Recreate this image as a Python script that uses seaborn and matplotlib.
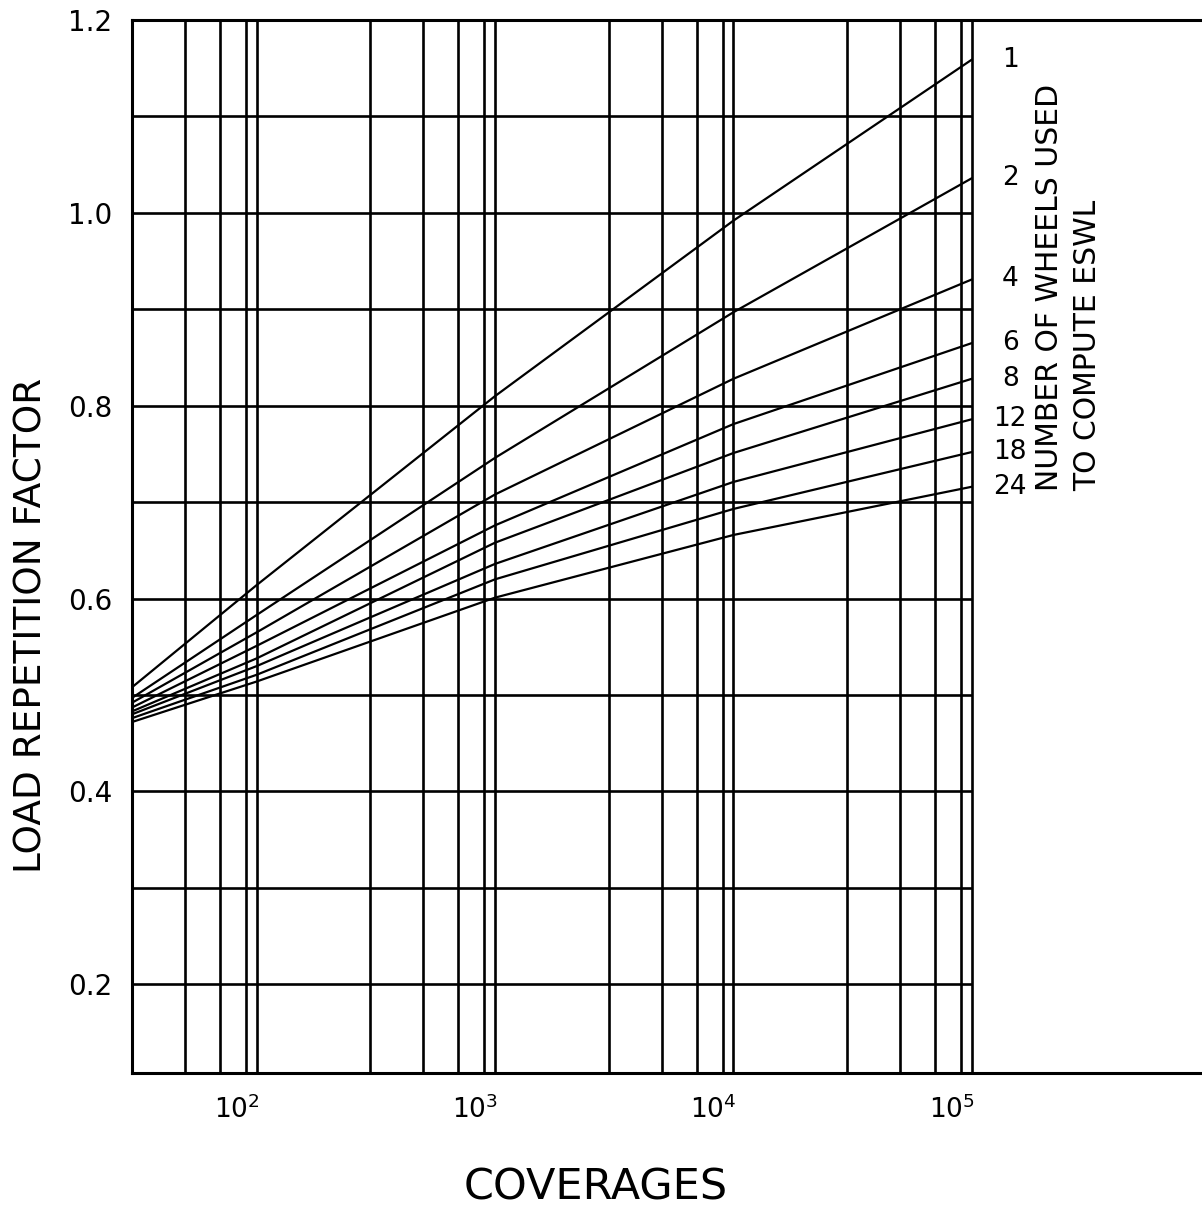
import numpy as np
import pandas as pd
import seaborn as sns
import matplotlib.pyplot as plt
from matplotlib.transforms import ScaledTranslation

# coverages where values were read, and curve values for each wheel count
coverages = [30, 100, 1000, 10000, 100000]
wheels = ['1', '2', '4', '6', '8', '12', '18', '24']
w1 = [0.508, 0.614, 0.810, 0.992, 1.159]
w2 = [0.497, 0.583, 0.746, 0.897, 1.036]
w4 = [0.492, 0.565, 0.708, 0.828, 0.931]
w6 = [0.487, 0.551, 0.676, 0.781, 0.865]
w8 = [0.483, 0.538, 0.658, 0.751, 0.828]
w12 = [0.480, 0.530, 0.636, 0.721, 0.786]
w18 = [0.476, 0.521, 0.620, 0.693, 0.752]
w24 = [0.472, 0.514, 0.601, 0.666, 0.716]
curves = [w1, w2, w4, w6, w8, w12, w18, w24]

# grid of the printed chart paper
vgrid = [50, 70, 90, 100, 300, 500, 700, 900, 1000, 3000, 5000, 7000, 9000,
         10000, 30000, 50000, 70000, 90000, 100000]
hgrid = [0.2, 0.3, 0.4, 0.5, 0.6, 0.7, 0.8, 0.9, 1.0, 1.1]
yticks = [0.2, 0.4, 0.6, 0.8, 1.0, 1.2]
xticks = [100, 1000, 10000, 100000]
xticklabels = ['$10^{2}$', '$10^{3}$', '$10^{4}$', '$10^{5}$']

df = pd.DataFrame({
    'coverages': np.tile(coverages, len(wheels)),
    'factor': np.concatenate(curves),
    'wheels': np.repeat(wheels, len(coverages)),
})

sns.set_style('white')
plt.rcParams['font.family'] = ['DejaVu Sans']
plt.rcParams['text.color'] = 'black'
plt.rcParams['xtick.color'] = 'black'
plt.rcParams['ytick.color'] = 'black'

fig = plt.figure(figsize=(12.02, 12.07), dpi=100)
ax = fig.add_axes([0.1098, 0.111, 0.8902, 0.8724])

ax.set_xscale('log')
ax.set_xlim(30, 9.23e5)
ax.set_ylim(0.108, 1.2)

ax.vlines(vgrid, 0.108, 1.2, color='black', lw=1.9, zorder=1)
ax.hlines(hgrid, 30, 1e5, color='black', lw=1.9, zorder=1)

sns.lineplot(data=df, x='coverages', y='factor', hue='wheels',
             palette=['black'] * len(wheels), estimator=None, sort=False,
             legend=False, lw=1.6, ax=ax, zorder=2)

for lab, c in zip(wheels, curves):
    ax.text(1.45e5, c[-1], lab, ha='center', va='center', fontsize=19)

ax.text(2.55e5, 0.712, 'NUMBER OF WHEELS USED\nTO COMPUTE ESWL',
        rotation=90, ha='center', va='bottom', multialignment='left',
        fontsize=21.5, linespacing=1.4)

for s in ['left', 'top', 'bottom']:
    ax.spines[s].set_color('black')
    ax.spines[s].set_linewidth(2.2)
ax.spines['right'].set_visible(False)

ax.set_yticks(yticks)
ax.set_yticklabels([f'{v:.1f}' for v in yticks], fontsize=20)
ax.set_xticks(xticks)
ax.set_xticklabels(xticklabels, fontsize=19)
ax.xaxis.set_minor_locator(plt.NullLocator())
ax.tick_params(axis='y', length=0, pad=14)
ax.tick_params(axis='x', length=0, pad=16)
for t in ax.get_xticklabels():
    t.set_transform(t.get_transform() + ScaledTranslation(-0.2, 0, fig.dpi_scale_trans))

ax.set_xlabel('')
ax.set_ylabel('')
fig.text(596 / 1202, 1 - 1187 / 1207, 'COVERAGES', ha='center', va='center',
         fontsize=31)
fig.text(32 / 1202, 1 - 625 / 1207, 'LOAD REPETITION FACTOR', rotation=90,
         ha='center', va='center', fontsize=27)

fig.savefig('out.png', dpi=100)
